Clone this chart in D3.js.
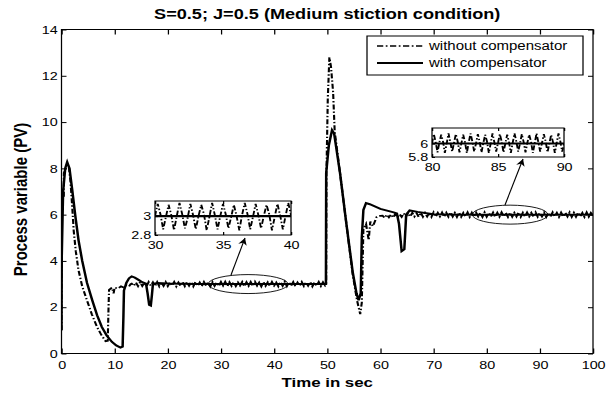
<!DOCTYPE html>
<html>
<head>
<meta charset="utf-8">
<script src="https://cdn.jsdelivr.net/npm/d3@7"></script>
<style>
  body { margin: 0; background: #fff; }
  svg text { font-family: "Liberation Sans", Arial, sans-serif; fill: #000; }
</style>
</head>
<body>
<div id="chart"></div>
<script>
// ---- data ----
const title = 'S=0.5; J=0.5 (Medium stiction condition)';
const xLabel = 'Time in sec';
const yLabel = 'Process variable (PV)';
const seriesNames = ['without compensator', 'with compensator'];
const xTicks = [0, 10, 20, 30, 40, 50, 60, 70, 80, 90, 100];
const yTicks = [0, 2, 4, 6, 8, 10, 12, 14];

// with compensator (solid), [time, PV]
const solidFirst = [[0,1.0],[0.05,4.2],[0.3,7.0],[0.7,8.0],[1.07,8.27],[1.5,8.0],[2.0,7.1],[2.6,5.95],
  [3.2,4.9],[3.9,4.0],[4.8,3.05],[5.8,2.29],[6.7,1.65],[7.6,1.14],[8.5,0.78],[9.5,0.5],[10.3,0.35],
  [11.1,0.26],[11.5,0.3],[11.65,1.6],[11.75,2.72],[12.2,3.05],[12.7,3.25],[13.2,3.33],[13.8,3.28],
  [14.5,3.18],[15.2,3.08],[15.9,3.02],[16.2,2.6],[16.5,2.1],[16.8,2.07],[17.0,2.5],[17.2,3.0],
  [18,3.05],[20,3.02],[25,3.0],[49.75,3.0]];
const solidSecond = [[49.8,7.8],[50.3,9.0],[50.9,9.65],[51.3,9.5],[52.4,7.8],[53.6,5.6],[54.8,3.5],
  [55.5,2.6],[55.9,2.3],[56.3,2.6],[56.5,5.0],[56.8,6.2],[57.3,6.5],[58,6.45],[60,6.25],[62.5,6.1],
  [63.1,6.05],[63.5,5.6],[64.0,4.42],[64.5,4.5],[64.85,6.0],[65.5,6.18],[67,6.12],[70,6.02],
  [75,6.0],[100,6.0]];

// without compensator (dash-dot), transients as [time, PV]
const dashFirst = [[0,1.0],[0.05,6.75],[0.43,6.75],[0.45,7.8],[0.9,8.0],[1.4,8.05],[1.7,7.4],[2.0,6.4],
  [2.3,5.3],[2.7,4.4],[3.2,3.6],[3.9,2.9],[4.8,2.29],[5.7,1.7],[6.7,1.14],[7.5,0.8],[8.3,0.53],
  [8.7,0.55],[8.85,2.0],[8.95,2.75],[9.5,2.85],[9.8,2.6],[10.0,2.85],[10.6,2.8],[11.2,2.9],
  [11.7,2.85],[12.2,2.95],[12.7,2.9],[13.0,3.0]];
const dashSecond = [[49.8,3.0],[49.85,7.8],[50.1,11.0],[50.4,12.8],[50.7,12.4],[51.1,11.3],[51.4,9.6],
  [52.4,7.8],[53.6,5.6],[54.8,3.4],[55.6,2.3],[56.2,1.7],[56.5,2.2],[56.8,5.4],[57.3,5.6],[57.8,4.9],
  [58.1,5.7],[58.6,5.5],[59.3,5.9],[60.0,5.95]];

// stick-slip cycling of the uncompensated loop as seen at full scale, sampled every 0.4 s
const dashCycle1Start = 13.2, dashCycle1Step = 0.4;
const dashCycle1 = [3.02,2.92,3.07,2.91,3.09,2.92,3.06,2.90,3.09,2.93,
  3.08,2.91,3.09,2.90,3.07,2.92,3.09,2.91,3.08,2.93,
  3.09,2.90,3.07,2.92,3.10,2.91,3.08,2.93,3.09,2.90,
  3.09,2.92,3.07,2.91,3.09,2.93,3.08,2.90,3.09,2.92,
  3.07,2.91,3.09,2.93,3.10,2.90,3.08,2.92,3.09,2.91,
  3.07,2.93,3.09,2.90,3.08,2.92,3.09,2.91,3.10,2.93,
  3.07,2.90,3.09,2.92,3.08,2.91,3.09,2.93,3.07,2.90,
  3.09,2.92,3.10,2.91,3.08,2.93,3.09,2.90,3.07,2.92,
  3.09,2.91,3.08,2.93,3.09,2.90,3.07,2.92,3.09,2.91,
  3.08,2.94];
const dashCycle2Start = 60.4, dashCycle2Step = 0.4;
const dashCycle2 = [5.96,5.86,6.00,5.88,6.01,5.87,6.03,5.89,6.02,5.90,
  6.06,5.90,6.08,5.91,6.08,5.92,6.07,5.90,6.09,5.91,
  6.08,5.92,6.08,5.90,6.10,5.91,6.08,5.92,6.09,5.90,
  6.08,5.91,6.10,5.92,6.08,5.90,6.09,5.91,6.08,5.92,
  6.10,5.90,6.08,5.91,6.09,5.92,6.08,5.90,6.10,5.91,
  6.08,5.92,6.09,5.90,6.08,5.91,6.10,5.92,6.08,5.90,
  6.09,5.91,6.08,5.92,6.10,5.90,6.08,5.91,6.09,5.92,
  6.08,5.90,6.10,5.91,6.08,5.92,6.09,5.90,6.08,5.91,
  6.10,5.92,6.08,5.90,6.09,5.91,6.08,5.92,6.10,5.90,
  6.08,5.91,6.09,5.92,6.08,5.90,6.10,5.91,6.08,5.96];

// zoomed views (insets)
const inset1XDomain = [30, 40], inset1YDomain = [2.8, 3.16];
const inset1XTicks = [30, 35, 40], inset1YTicks = [2.8, 3];
const inset1Start = 30, inset1Step = 0.2;
const inset1Dash = [3.00,3.13,3.02,2.86,2.99,3.12,3.01,2.85,3.00,3.14,3.02,2.87,
  2.98,3.13,3.01,2.86,3.00,3.12,3.02,2.85,2.99,3.14,3.01,2.86,
  3.00,3.13,3.02,2.87,2.99,3.12,3.00,2.85,3.01,3.14,3.02,2.86,
  2.99,3.13,3.01,2.87,3.00,3.12,3.02,2.85,2.99,3.13,3.01,2.86,
  3.00,3.14,3.01];
const inset2XDomain = [80, 90], inset2YDomain = [5.8, 6.23];
const inset2XTicks = [80, 85, 90], inset2YTicks = [5.8, 6];
const inset2Start = 80, inset2Step = 10 / 72;
const inset2Dash = [6.00,6.14,6.02,5.87,6.01,6.13,6.03,5.86,6.00,6.15,6.02,5.88,
  6.01,6.14,6.03,5.87,6.00,6.13,6.02,5.86,6.01,6.15,6.03,5.88,
  6.00,6.14,6.02,5.87,6.01,6.13,6.03,5.86,6.00,6.15,6.02,5.88,
  6.01,6.14,6.03,5.87,6.00,6.13,6.02,5.86,6.01,6.15,6.03,5.88,
  6.00,6.14,6.02,5.87,6.01,6.13,6.03,5.86,6.00,6.15,6.02,5.88,
  6.01,6.14,6.03,5.87,6.00,6.13,6.02,5.86,6.01,6.15,6.03,5.88,
  6.00];

// ellipses marking the zoomed windows: [centre t, centre PV, half width s, half height PV]
const zoomMark1 = [35.1, 3.0, 7.5, 0.41];
const zoomMark2 = [84.4, 6.0, 7.1, 0.41];

// ---- layout ----
const SX = 1.25;               // the source figure was stretched horizontally
const W = 609 / SX, H = 394;
const px = v => v / SX;        // picture x pixel -> viewBox x
const FONT = '"Liberation Sans", Arial, sans-serif';
const DASHDOT = '5,2,1.4,2';

const svg = d3.select('#chart').append('svg')
  .attr('width', 609).attr('height', 394)
  .attr('viewBox', `0 0 ${W} ${H}`)
  .attr('preserveAspectRatio', 'none')
  .style('display', 'block');

const x = d3.scaleLinear().domain([0, 100]).range([px(61.5), px(593)]);
const y = d3.scaleLinear().domain([0, 14]).range([353.5, 29.5]);

const cyclePairs = (start, step, vals) => vals.map((v, i) => [start + i * step, v]);
const solidData = solidFirst.concat(solidSecond);
const dashData = dashFirst
  .concat(cyclePairs(dashCycle1Start, dashCycle1Step, dashCycle1))
  .concat(dashSecond)
  .concat(cyclePairs(dashCycle2Start, dashCycle2Step, dashCycle2));

// clip for the main plot
const defs = svg.append('defs');
defs.append('clipPath').attr('id', 'clipMain').append('rect')
  .attr('x', x(0)).attr('y', y(14)).attr('width', x(100) - x(0)).attr('height', y(0) - y(14));
defs.append('marker').attr('id', 'arrow')
  .attr('viewBox', '0 0 10 10').attr('refX', 10).attr('refY', 5)
  .attr('markerWidth', 8).attr('markerHeight', 7).attr('markerUnits', 'userSpaceOnUse')
  .attr('orient', 'auto')
  .append('path').attr('d', 'M0,0 L10,5 L0,10 L3,5 Z').attr('fill', '#000');

const plot = svg.append('g').attr('clip-path', 'url(#clipMain)');

const mainLine = d3.line().x(d => x(d[0])).y(d => y(d[1]));
plot.append('path').datum(dashData).attr('d', mainLine)
  .attr('fill', 'none').attr('stroke', '#000').attr('stroke-width', 1.7)
  .attr('stroke-dasharray', DASHDOT);
plot.append('path').datum(solidData).attr('d', mainLine)
  .attr('fill', 'none').attr('stroke', '#000').attr('stroke-width', 2);

// ellipses around the zoomed windows
[zoomMark1, zoomMark2].forEach(m => {
  plot.append('ellipse')
    .attr('cx', x(m[0])).attr('cy', y(m[1]))
    .attr('rx', x(m[0] + m[2]) - x(m[0])).attr('ry', y(m[1] - m[3]) - y(m[1]))
    .attr('fill', 'none').attr('stroke', '#000').attr('stroke-width', 0.8);
});

// axes: inward ticks on all four sides
function styleAxis(g) {
  g.select('.domain').remove();
  g.attr('font-family', FONT).attr('font-size', 11.5);
  g.selectAll('.tick line').attr('stroke', '#000');
  g.selectAll('.tick text').attr('fill', '#000');
}
svg.append('g').attr('transform', `translate(0,${y(0)})`)
  .call(d3.axisBottom(x).tickValues(xTicks).tickSize(-5).tickPadding(7))
  .call(styleAxis);
svg.append('g').attr('transform', `translate(${x(0)},0)`)
  .call(d3.axisLeft(y).tickValues(yTicks).tickSize(-5 / SX).tickPadding(3))
  .call(styleAxis);
svg.append('g').attr('transform', `translate(0,${y(14)})`)
  .call(d3.axisTop(x).tickValues(xTicks).tickSize(-5).tickFormat(''))
  .call(styleAxis);
svg.append('g').attr('transform', `translate(${x(100)},0)`)
  .call(d3.axisRight(y).tickValues(yTicks).tickSize(-5 / SX).tickFormat(''))
  .call(styleAxis);
svg.append('rect')
  .attr('x', x(0)).attr('y', y(14)).attr('width', x(100) - x(0)).attr('height', y(0) - y(14))
  .attr('fill', 'none').attr('stroke', '#000').attr('stroke-width', 1);

// insets
function drawInset(id, box, xDom, yDom, xt, yt, dashVals, start, step) {
  const ix = d3.scaleLinear().domain(xDom).range([px(box[0]), px(box[2])]);
  const iy = d3.scaleLinear().domain(yDom).range([box[3], box[1]]);
  const g = svg.append('g');
  g.append('rect').attr('x', ix.range()[0]).attr('y', box[1])
    .attr('width', ix.range()[1] - ix.range()[0]).attr('height', box[3] - box[1])
    .attr('fill', '#fff');
  defs.append('clipPath').attr('id', id).append('rect')
    .attr('x', ix.range()[0]).attr('y', box[1])
    .attr('width', ix.range()[1] - ix.range()[0]).attr('height', box[3] - box[1]);
  const inner = g.append('g').attr('clip-path', `url(#${id})`);
  const ln = d3.line().x(d => ix(d[0])).y(d => iy(d[1]));
  inner.append('path').datum(cyclePairs(start, step, dashVals)).attr('d', ln)
    .attr('fill', 'none').attr('stroke', '#000').attr('stroke-width', 1.5)
    .attr('stroke-dasharray', DASHDOT);
  inner.append('path').datum(solidData).attr('d', ln)
    .attr('fill', 'none').attr('stroke', '#000').attr('stroke-width', 2.2);
  g.append('g').attr('transform', `translate(0,${box[3]})`)
    .call(d3.axisBottom(ix).tickValues(xt).tickSize(-3).tickPadding(6).tickFormat(d => d))
    .call(styleAxis);
  g.append('g').attr('transform', `translate(0,${box[1]})`)
    .call(d3.axisTop(ix).tickValues(xt).tickSize(-3).tickFormat(''))
    .call(styleAxis);
  g.append('g').attr('transform', `translate(${ix.range()[0]},0)`)
    .call(d3.axisLeft(iy).tickValues(yt).tickSize(-3 / SX).tickPadding(3).tickFormat(d => d))
    .call(styleAxis);
  g.append('rect').attr('x', ix.range()[0]).attr('y', box[1])
    .attr('width', ix.range()[1] - ix.range()[0]).attr('height', box[3] - box[1])
    .attr('fill', 'none').attr('stroke', '#000').attr('stroke-width', 1);
}
drawInset('clipInset1', [155, 201, 291, 235], inset1XDomain, inset1YDomain,
  inset1XTicks, inset1YTicks, inset1Dash, inset1Start, inset1Step);
drawInset('clipInset2', [432, 128, 564, 157], inset2XDomain, inset2YDomain,
  inset2XTicks, inset2YTicks, inset2Dash, inset2Start, inset2Step);

// arrows from the ellipses to the insets
[[231, 275, 245, 238], [505, 205, 523, 159]].forEach(a => {
  svg.append('line')
    .attr('x1', px(a[0])).attr('y1', a[1]).attr('x2', px(a[2])).attr('y2', a[3])
    .attr('stroke', '#000').attr('stroke-width', 0.9).attr('marker-end', 'url(#arrow)');
});

// legend
const legend = svg.append('g');
legend.append('rect').attr('x', px(367)).attr('y', 36)
  .attr('width', px(583) - px(367)).attr('height', 39)
  .attr('fill', '#fff').attr('stroke', '#000').attr('stroke-width', 1);
seriesNames.forEach((name, i) => {
  const ly = 46 + i * 17;
  legend.append('line').attr('x1', px(377)).attr('x2', px(423)).attr('y1', ly).attr('y2', ly)
    .attr('stroke', '#000').attr('stroke-width', i === 0 ? 1.6 : 2)
    .attr('stroke-dasharray', i === 0 ? DASHDOT : null);
  legend.append('text').attr('x', px(429)).attr('y', ly + 4.3)
    .attr('font-size', 12).text(name);
});

// title and axis labels
svg.append('text').attr('x', (x(0) + x(100)) / 2).attr('y', 19)
  .attr('text-anchor', 'middle').attr('font-size', 14.5).attr('font-weight', 'bold')
  .text(title);
svg.append('text').attr('x', (x(0) + x(100)) / 2).attr('y', 387)
  .attr('text-anchor', 'middle').attr('font-size', 13.5).attr('font-weight', 'bold')
  .text(xLabel);
svg.append('text')
  .attr('transform', `translate(${px(27)},${(y(0) + y(14)) / 2 + 8}) rotate(-90)`)
  .attr('text-anchor', 'middle').attr('font-size', 15).attr('font-weight', 'bold')
  .text(yLabel);
</script>
</body>
</html>
